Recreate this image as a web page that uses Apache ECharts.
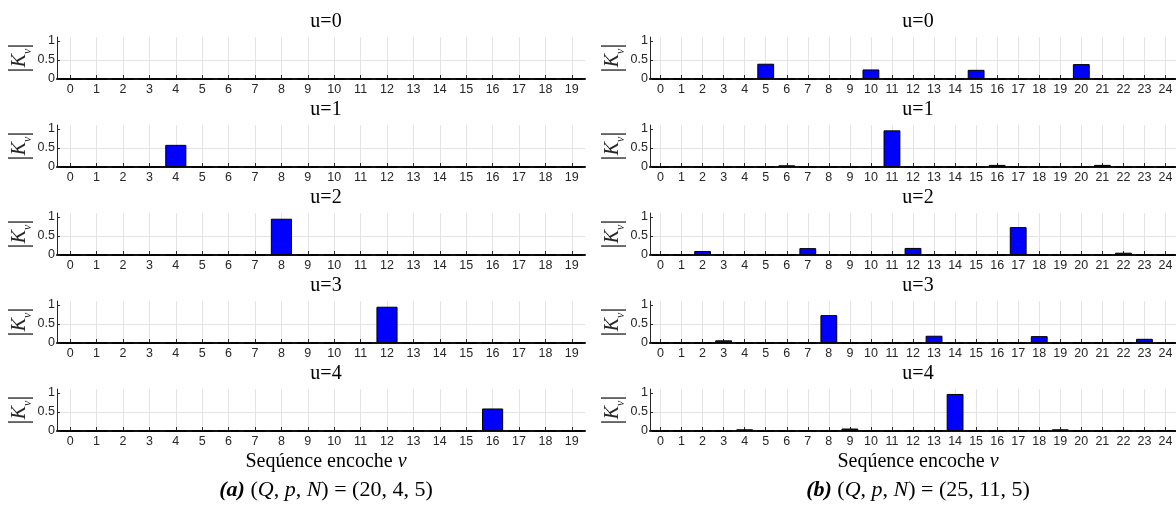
<!DOCTYPE html>
<html>
<head>
<meta charset="utf-8">
<script src="https://cdn.jsdelivr.net/npm/echarts@6/dist/echarts.min.js"></script>
<style>html,body{margin:0;padding:0;background:#fff;}#c{width:1176px;height:509px;}</style>
</head>
<body>
<div id="c"></div>
<script>
const catsA = ['0','1','2','3','4','5','6','7','8','9','10','11','12','13','14','15','16','17','18','19'];
const catsB = ['0','1','2','3','4','5','6','7','8','9','10','11','12','13','14','15','16','17','18','19','20','21','22','23','24'];
const rowTitles = ['u=0','u=1','u=2','u=3','u=4'];
const yTicks = [0, 0.5, 1];

const a_u0 = [0,0,0,0,0,0,0,0,0,0,0,0,0,0,0,0,0,0,0,0];
const a_u1 = [0,0,0,0,0.58,0,0,0,0,0,0,0,0,0,0,0,0,0,0,0];
const a_u2 = [0,0,0,0,0,0,0,0,0.95,0,0,0,0,0,0,0,0,0,0,0];
const a_u3 = [0,0,0,0,0,0,0,0,0,0,0,0,0.95,0,0,0,0,0,0,0];
const a_u4 = [0,0,0,0,0,0,0,0,0,0,0,0,0,0,0,0,0.59,0,0,0];

const b_u0 = [0,0,0,0,0,0.40,0,0,0,0,0.25,0,0,0,0,0.24,0,0,0,0,0.39,0,0,0,0];
const b_u1 = [0,0.025,0,0,0,0,0.045,0,0,0,0,0.96,0,0,0,0,0.055,0,0,0,0,0.055,0,0,0];
const b_u2 = [0,0,0.105,0,0,0,0,0.18,0,0,0,0,0.185,0,0,0,0,0.73,0,0,0,0,0.06,0,0];
const b_u3 = [0,0,0,0.07,0,0,0,0,0.73,0,0,0,0,0.19,0,0,0,0,0.18,0,0,0,0,0.11,0];
const b_u4 = [0,0,0,0,0.045,0,0,0,0,0.065,0,0,0,0,0.97,0,0,0,0,0.045,0,0,0,0,0.02];

const seriesA = [a_u0, a_u1, a_u2, a_u3, a_u4];
const seriesB = [b_u0, b_u1, b_u2, b_u3, b_u4];

const SERIF = '"Liberation Serif", "DejaVu Serif", serif';
const SANS = '"Liberation Sans", Arial, sans-serif';
const TXT = '#262626';

const grids = [], xAxes = [], yAxes = [], series = [], titles = [];
const cols = [
  {left: 57, cats: catsA, data: seriesA, cx: 321},
  {left: 650, cats: catsB, data: seriesB, cx: 913}
];
let idx = 0;
cols.forEach((col) => {
  for (let r = 0; r < 5; r++) {
    const top = 37 + 88 * r;
    grids.push({left: col.left, top: top, width: 528, height: 42, containLabel: false});
    xAxes.push({
      type: 'category', gridIndex: idx, data: col.cats,
      axisLine: {show: true, lineStyle: {color: '#111', width: 2}},
      axisTick: {show: true, inside: true, alignWithLabel: true, length: 4, lineStyle: {color: TXT}},
      axisLabel: {interval: 0, color: TXT, fontSize: 12.5, fontFamily: SANS, margin: 4},
      splitLine: {show: true, alignWithLabel: true, interval: 0, lineStyle: {color: '#e3e3e3', width: 1}}
    });
    yAxes.push({
      type: 'value', gridIndex: idx, min: 0, max: 1.1, interval: 0.5,
      axisLine: {show: true, lineStyle: {color: TXT, width: 1}},
      axisTick: {show: true, inside: true, length: 3, customValues: yTicks, lineStyle: {color: TXT}},
      axisLabel: {color: TXT, fontSize: 12.5, fontFamily: SANS, margin: 2,
        formatter: (v) => (yTicks.indexOf(v) >= 0 ? String(v) : '')},
      splitLine: {show: true, showMaxLine: false, lineStyle: {color: '#e3e3e3', width: 1}},
      name: '{a||}{k|K}{s|v}{a||}', nameLocation: 'middle', nameRotate: 90, nameGap: 21,
      nameTextStyle: {
        color: TXT,
        rich: {
          a: {fontFamily: SERIF, fontSize: 27, color: TXT},
          k: {fontFamily: SERIF, fontStyle: 'italic', fontSize: 20, color: TXT},
          s: {fontFamily: SERIF, fontStyle: 'italic', fontSize: 12, color: TXT, verticalAlign: 'bottom', padding: [8, 0, 0, 0]}
        }
      }
    });
    series.push({
      type: 'bar', xAxisIndex: idx, yAxisIndex: idx, data: col.data[r],
      barWidth: '80%', silent: true, animation: false,
      itemStyle: {color: '#0000ff', borderColor: '#000', borderWidth: 1}
    });
    titles.push({
      text: rowTitles[r], left: col.cx, top: top - 30, textAlign: 'center',
      textStyle: {fontFamily: SERIF, fontWeight: 'normal', fontSize: 20, color: '#000'}
    });
    idx++;
  }
});

cols.forEach((col, c) => {
  titles.push({
    text: 'Seqúence encoche {i|v}', left: col.cx, top: 447, textAlign: 'center',
    textStyle: {fontFamily: SERIF, fontWeight: 'normal', fontSize: 20, color: '#000',
      rich: {i: {fontFamily: SERIF, fontStyle: 'italic', fontSize: 20, color: '#000'}}}
  });
  const lab = c === 0 ? '(a)' : '(b)';
  const vals = c === 0 ? '(20, 4, 5)' : '(25, 11, 5)';
  titles.push({
    text: '{b|' + lab + '} ({i|Q}, {i|p}, {i|N}) = ' + vals, left: col.cx, top: 474, textAlign: 'center',
    textStyle: {fontFamily: SERIF, fontWeight: 'normal', fontSize: 22, color: '#000',
      rich: {
        b: {fontFamily: SERIF, fontStyle: 'italic', fontWeight: 'bold', fontSize: 22, color: '#000'},
        i: {fontFamily: SERIF, fontStyle: 'italic', fontSize: 22, color: '#000'}
      }}
  });
});

const chart = echarts.init(document.getElementById('c'), null, {renderer: 'canvas'});
chart.setOption({
  animation: false,
  backgroundColor: '#fff',
  title: titles,
  grid: grids,
  xAxis: xAxes,
  yAxis: yAxes,
  series: series
});
</script>
</body>
</html>
